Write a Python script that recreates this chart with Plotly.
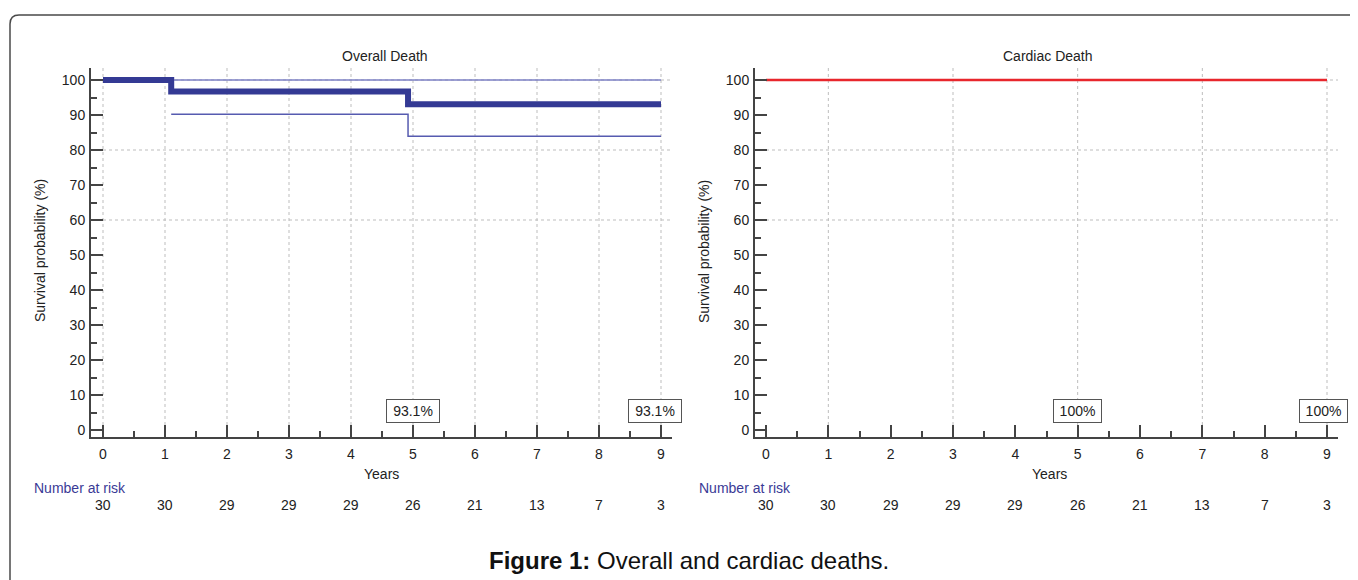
import plotly.graph_objects as go

W, H = 1358, 580
OFF = 8  # default body margin of the html page
FONT = "Arial, 'Liberation Sans', sans-serif"

# ---------------- data ----------------
years = [0, 1, 2, 3, 4, 5, 6, 7, 8, 9]
at_risk_overall = [30, 30, 29, 29, 29, 26, 21, 13, 7, 3]
at_risk_cardiac = [30, 30, 29, 29, 29, 26, 21, 13, 7, 3]

overall_t = [0, 1.1, 4.92, 9.0]
overall_s = [100, 96.7, 93.1, 93.1]
overall_upper_t = [1.1, 9.0]
overall_upper_s = [100, 100]
overall_lower_t = [1.1, 4.92, 9.0]
overall_lower_s = [90.2, 83.9, 83.9]

cardiac_t = [0, 9.0]
cardiac_s = [100, 100]

overall_labels = ["93.1%", "93.1%"]
cardiac_labels = ["100%", "100%"]
label_years = [5, 9]

grid_years_left = [0, 1, 2, 3, 4, 5, 6, 7, 8, 9]
grid_years_right = [1, 3, 5, 7, 9]
grid_surv = [60, 80, 100]


def px(x):
    return (x - OFF) / W


def py(y):
    return 1 - (y - OFF) / H


# axis geometry (pixels, in the final screenshot)
Y_TOP, Y_BOT = 68, 437
Y_100, Y_0 = 80, 430
yscale = (Y_0 - Y_100) / 100.0
yrange = [(Y_0 - Y_BOT) / yscale, (Y_0 - Y_TOP) / yscale]

L_AX0, L_AX1, L_X0, L_X9 = 91, 672, 103, 661
R_AX0, R_AX1, R_X0, R_X9 = 755, 1338, 766, 1327
ls = (L_X9 - L_X0) / 9.0
rs = (R_X9 - R_X0) / 9.0
xrange_l = [(L_AX0 - L_X0) / ls, (L_AX1 - L_X0) / ls]
xrange_r = [(R_AX0 - R_X0) / rs, (R_AX1 - R_X0) / rs]

fig = go.Figure()

AXC = "#444444"
BLUE = "#343a94"
THIN = "#565bb0"
RED = "#e8262c"

fig.add_trace(go.Scatter(x=overall_upper_t, y=overall_upper_s, mode="lines",
                         line=dict(color="#7c80c4", width=1.5, shape="hv"),
                         xaxis="x", yaxis="y", showlegend=False, hoverinfo="skip"))
fig.add_trace(go.Scatter(x=overall_lower_t, y=overall_lower_s, mode="lines",
                         line=dict(color=THIN, width=1.5, shape="hv"),
                         xaxis="x", yaxis="y", showlegend=False, hoverinfo="skip"))
fig.add_trace(go.Scatter(x=overall_t, y=overall_s, mode="lines",
                         line=dict(color=BLUE, width=6, shape="hv"),
                         xaxis="x", yaxis="y", showlegend=False, hoverinfo="skip"))
fig.add_trace(go.Scatter(x=cardiac_t, y=cardiac_s, mode="lines",
                         line=dict(color=RED, width=2.5, shape="hv"),
                         xaxis="x2", yaxis="y2", showlegend=False, hoverinfo="skip"))

FS = 14
tickfont = dict(family=FONT, size=FS, color="#222222")


def xaxis_def(dom, rng):
    return dict(domain=dom, range=rng, tickmode="linear", tick0=0, dtick=1,
                ticks="inside", ticklen=12, tickwidth=2, tickcolor=AXC,
                minor=dict(dtick=0.5, tick0=0, ticks="inside", ticklen=6,
                           tickwidth=1.5, tickcolor=AXC, showgrid=False),
                showline=True, linecolor=AXC, linewidth=2, showgrid=False,
                zeroline=False, tickfont=tickfont, ticklabelstandoff=3,
                fixedrange=True)


def yaxis_def(dom, anchor):
    return dict(domain=dom, range=yrange, anchor=anchor, tickmode="linear",
                tick0=0, dtick=10, ticks="inside", ticklen=12, tickwidth=2,
                tickcolor=AXC,
                minor=dict(dtick=5, tick0=0, ticks="inside", ticklen=6,
                           tickwidth=1.5, tickcolor=AXC, showgrid=False),
                showline=True, linecolor=AXC, linewidth=2, showgrid=False,
                zeroline=False, tickfont=tickfont, ticklabelstandoff=1,
                fixedrange=True)


ydom = [py(Y_BOT), py(Y_TOP)]
fig.update_layout(
    width=W, height=H,
    margin=dict(l=0, r=0, t=0, b=0),
    paper_bgcolor="white", plot_bgcolor="white",
    xaxis=dict(xaxis_def([px(L_AX0), px(L_AX1)], xrange_l), anchor="y"),
    yaxis=yaxis_def(ydom, "x"),
    xaxis2=dict(xaxis_def([px(R_AX0), px(R_AX1)], xrange_r), anchor="y2"),
    yaxis2=yaxis_def(ydom, "x2"),
    font=dict(family=FONT, size=FS, color="#222222"),
    showlegend=False,
)

shapes = []
GRID = dict(color="#bdbdbd", width=1, dash="dot")
for g in grid_years_left:
    shapes.append(dict(type="line", xref="x", yref="y domain", x0=g, x1=g, y0=0, y1=1,
                       line=GRID, layer="below"))
for g in grid_years_right:
    shapes.append(dict(type="line", xref="x2", yref="y2 domain", x0=g, x1=g, y0=0, y1=1,
                       line=GRID, layer="below"))
for g in grid_surv:
    shapes.append(dict(type="line", xref="x", yref="y", x0=0, x1=xrange_l[1], y0=g, y1=g,
                       line=GRID, layer="below"))
    shapes.append(dict(type="line", xref="x2", yref="y2", x0=0, x1=xrange_r[1], y0=g, y1=g,
                       line=GRID, layer="below"))

# outer rounded frame (extends beyond the page)
fx0, fy0, r = 10, 15, 9
path = (f"M {px(fx0)},{py(640)} L {px(fx0)},{py(fy0 + r)} "
        f"Q {px(fx0)},{py(fy0)} {px(fx0 + r)},{py(fy0)} L {px(1440)},{py(fy0)}")
shapes.append(dict(type="path", xref="paper", yref="paper", path=path,
                   line=dict(color="#4a4a4a", width=1.5)))
fig.update_layout(shapes=shapes)

ann = []
txt = dict(family=FONT, size=FS, color="#222222")


def note(text, x, y, xref="paper", yref="paper", xanchor="center", **kw):
    d = dict(text=text, x=x, y=y, xref=xref, yref=yref, xanchor=xanchor,
             yanchor="middle", showarrow=False, font=kw.pop("font", txt))
    d.update(kw)
    ann.append(d)


# panel titles
note("Overall Death", px(385), py(56))
note("Cardiac Death", px(1048), py(56))
# axis titles
note("Years", px(381), py(474))
note("Years", px(1049), py(474))
note("Survival probability (%)", px(40), py(251), textangle=-90)
note("Survival probability (%)", px(704), py(251), textangle=-90)
# number at risk
risk_font = dict(family=FONT, size=FS, color="#3a3a96")
note("Number at risk", px(32), py(488), xanchor="left", font=risk_font)
note("Number at risk", px(697), py(488), xanchor="left", font=risk_font)
for yr, n in zip(years, at_risk_overall):
    note(str(n), yr, py(505), xref="x")
for yr, n in zip(years, at_risk_cardiac):
    note(str(n), yr, py(505), xref="x2")
# boxed survival labels
box_y = (Y_0 - 411) / yscale
for i, (yr, lab) in enumerate(zip(label_years, overall_labels)):
    note(lab, yr, box_y, xref="x", yref="y", xshift=(-6 if i == 1 else 0),
         bordercolor="#555555", borderwidth=1, bgcolor="white", width=50, height=20)
for i, (yr, lab) in enumerate(zip(label_years, cardiac_labels)):
    note(lab, yr, box_y, xref="x2", yref="y2", xshift=(-4 if i == 1 else 0),
         bordercolor="#555555", borderwidth=1, bgcolor="white", width=45, height=20)
# caption
note("<b>Figure 1:</b> Overall and cardiac deaths.", px(689), py(560),
     font=dict(family=FONT, size=24, color="#111111"))
fig.update_layout(annotations=ann)

fig.write_html("out.html")
